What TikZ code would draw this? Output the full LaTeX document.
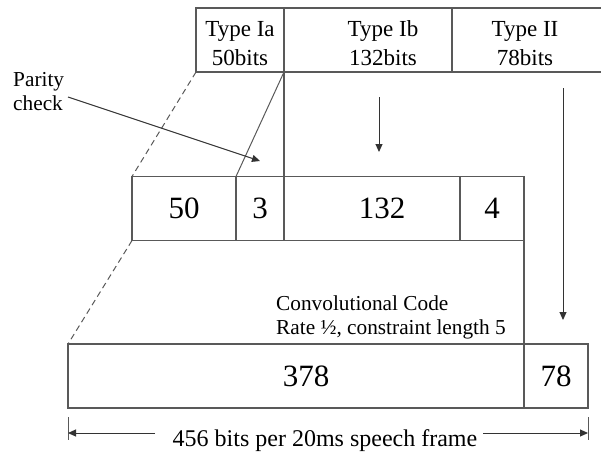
\documentclass[tikz,border=0pt]{standalone}
\usepackage{fontspec}
\setmainfont{Liberation Serif}
\usetikzlibrary{arrows.meta,positioning}

\tikzset{
  cell/.style={draw=black!65, line width=1.2pt, inner sep=0pt, outer sep=0pt,
    minimum height=64pt, font=\fontsize{31}{31}\selectfont},
  typefont/.style={inner sep=0pt, align=center, font=\fontsize{23}{29}\selectfont},
  notefont/.style={inner sep=0pt, align=left, font=\fontsize{21.3}{24}\selectfont},
  numfont/.style={inner sep=0pt, font=\fontsize{31}{31}\selectfont},
  link/.style={draw=black!65, line width=1.2pt},
  arrow/.style={draw=black!80, line width=1pt, -{Triangle[length=8pt,width=7pt]}},
}

\begin{document}
\begin{tikzpicture}[x=1pt,y=-1pt]
\useasboundingbox (0,0) rectangle (601,451);
\clip (0,0) rectangle (601,451);

% speech coder output
\node[cell, minimum width=88pt] (ia) at (240,40) {};
\node[cell, minimum width=168pt, right=0pt of ia] (ib) {};
\node[cell, minimum width=150pt, right=0pt of ib] (ii) {};
\node[typefont] (iatext) at ([yshift=-3.5pt]ia.center) {Type Ia\\50bits};
\node[typefont] (ibtext) at ([xshift=15pt,yshift=-3.5pt]ib.center) {Type Ib\\132bits};
\node[typefont] (iitext) at ([xshift=-2pt,yshift=-3.5pt]ii.center) {Type II\\78bits};

% with parity and tail bits
\node[cell, minimum width=104pt] (m50) at (184,208.5) {50};
\node[cell, minimum width=48pt, right=0pt of m50] (m3) {3};
\node[cell, minimum width=176pt, right=0pt of m3] (m132) {};
\node[cell, minimum width=64pt, right=0pt of m132] (m4) {4};
\node[numfont] (m132text) at ([xshift=10pt]m132.center) {132};

% coded frame
\node[cell, minimum width=456pt] (b378) at (296,376) {};
\node[cell, minimum width=64pt, right=0pt of b378] (b78) {78};
\node[numfont] (b378text) at ([xshift=10pt]b378.center) {378};

\draw[link, line width=1pt, dash pattern=on 6pt off 4pt] (ia.south west) -- (m50.north west);
\draw[link, line width=1pt] (ib.south west) -- (m3.north west);
\draw[link] (ia.south east) -- (m3.north east);
\draw[link, line width=1pt, dash pattern=on 6pt off 4pt] (m50.south west) -- (b378.north west);
\draw[link] (m4.south east) -- (b378.north east);

% labels and arrows
\node[notefont, anchor=west] (parity) at (13,91.4) {Parity\\check};
\coordinate (paritytail) at (68,97);
\coordinate (paritytip) at (260,161);
\draw[arrow] (paritytail) -- (paritytip);

\coordinate (ibtail) at (379,97);
\coordinate (ibtip) at (379,152);
\draw[arrow] (ibtail) -- (ibtip);

\coordinate (iitail) at (563,88);
\coordinate (iitip) at (563,320);
\draw[arrow] (iitail) -- (iitip);

\node[notefont, anchor=west] (conv) at (276,317) {Convolutional Code\\Rate ½, constraint length 5};

% frame length
\coordinate (tickL) at (68,433);
\coordinate (tickR) at (588,433);
\coordinate (dimL) at (155,433);
\coordinate (dimR) at (483,433);
\draw[link, line width=1pt] ([yshift=16pt]tickL) -- ([yshift=-7pt]tickL);
\draw[link, line width=1pt] ([yshift=16pt]tickR) -- ([yshift=-7pt]tickR);
\draw[arrow] (dimL) -- (tickL);
\draw[arrow] (dimR) -- (tickR);
\node[inner sep=0pt, anchor=base, font=\fontsize{24}{24}\selectfont] (dimtext) at (325,446) {456 bits per 20ms speech frame};
\end{tikzpicture}
\end{document}
